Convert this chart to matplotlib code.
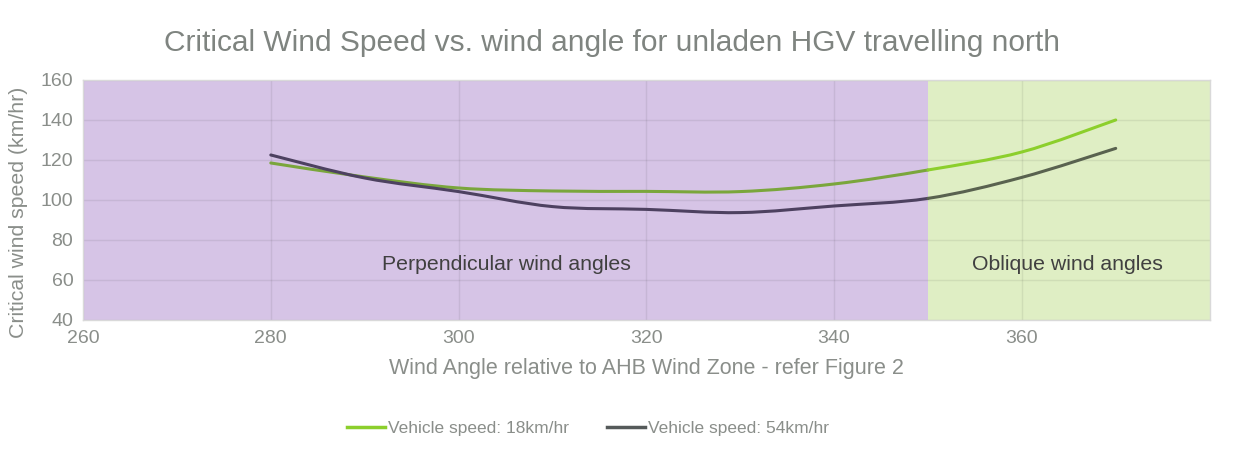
import numpy as np
import matplotlib.pyplot as plt
from matplotlib.path import Path
from matplotlib.patches import PathPatch

angles = [280, 290, 300, 310, 320, 330, 340, 350, 360, 370]
speed_18 = [118.5, 111.5, 106.0, 104.5, 104.3, 104.2, 108.0, 115.0, 124.0, 140.0]
speed_54 = [122.5, 111.0, 104.2, 96.7, 95.3, 93.7, 97.0, 100.8, 111.3, 125.8]
zone_split = 350
x_limits = (260, 380)
y_limits = (40, 160)

plt.rcParams['font.family'] = ['Liberation Sans', 'DejaVu Sans']
grey = '#8a8e8a'


def smooth_path(xs, ys, i0, i1):
    # excel style smoothed line: catmull-rom segments as cubic beziers
    pts = np.column_stack([xs, ys]).astype(float)
    n = len(pts)
    verts = [pts[i0]]
    codes = [Path.MOVETO]
    for i in range(i0, i1):
        p0 = pts[max(i - 1, 0)]
        p1 = pts[i]
        p2 = pts[i + 1]
        p3 = pts[min(i + 2, n - 1)]
        c1 = p1 + (p2 - p0) / 6
        c2 = p2 - (p3 - p1) / 6
        verts += [c1, c2, p2]
        codes += [Path.CURVE4] * 3
    return Path(verts, codes)


fig = plt.figure(figsize=(12.47, 4.57), dpi=100)
ax = fig.add_axes([0.0666, 0.2998, 0.9034, 0.5252])

ax.axvspan(x_limits[0], zone_split, color='#d6c4e6', zorder=0, lw=0)
ax.axvspan(zone_split, x_limits[1], color='#dfeec4', zorder=0, lw=0)

k = angles.index(zone_split)
last = len(angles) - 1
for ys, c_left, c_right in [(speed_18, '#7aa63c', '#8ccf2c'),
                            (speed_54, '#4d4160', '#59624f')]:
    for i0, i1, c in [(0, k, c_left), (k, last, c_right)]:
        ax.add_patch(PathPatch(smooth_path(angles, ys, i0, i1), fill=False,
                               edgecolor=c, lw=2.2, zorder=3, capstyle='round'))

ax.set_xlim(*x_limits)
ax.set_ylim(*y_limits)
ax.set_xticks(range(260, 361, 20))
ax.set_yticks(range(40, 161, 20))
ax.grid(True, color='black', alpha=0.07, lw=1.0, zorder=1)
for s in ax.spines.values():
    s.set_color('#d9d9d9')
    s.set_linewidth(1)
ax.tick_params(length=0, labelsize=14, labelcolor=grey, pad=7)

ax.text(305.1, 67.5, 'Perpendicular wind angles', ha='center', va='center',
        fontsize=15.3, color='#404040', zorder=4)
ax.text(364.9, 67.5, 'Oblique wind angles', ha='center', va='center',
        fontsize=15.3, color='#404040', zorder=4)

ax.set_xlabel('Wind Angle relative to AHB Wind Zone - refer Figure 2',
              fontsize=15.5, color=grey, labelpad=8)
ax.set_ylabel('Critical wind speed (km/hr)', fontsize=15.3, color=grey)
ax.yaxis.set_label_coords(-0.049, 0.45)
fig.text(0.4908, 1 - 43 / 457,
         'Critical Wind Speed vs. wind angle for unladen HGV travelling north',
         ha='center', va='center', fontsize=21.5, color='#7f8480')

h1, = ax.plot([], [], color='#8ccf2c', lw=2.5)
h2, = ax.plot([], [], color='#555a5a', lw=2.5)
fig.legend([h1, h2], ['Vehicle speed: 18km/hr', 'Vehicle speed: 54km/hr'],
           loc='center', bbox_to_anchor=(0.4716, 0.063), ncol=2, frameon=False,
           fontsize=12.5, labelcolor=grey, handlelength=2.2, handletextpad=0.15,
           columnspacing=2.2)

fig.savefig('out.png', dpi=100)
